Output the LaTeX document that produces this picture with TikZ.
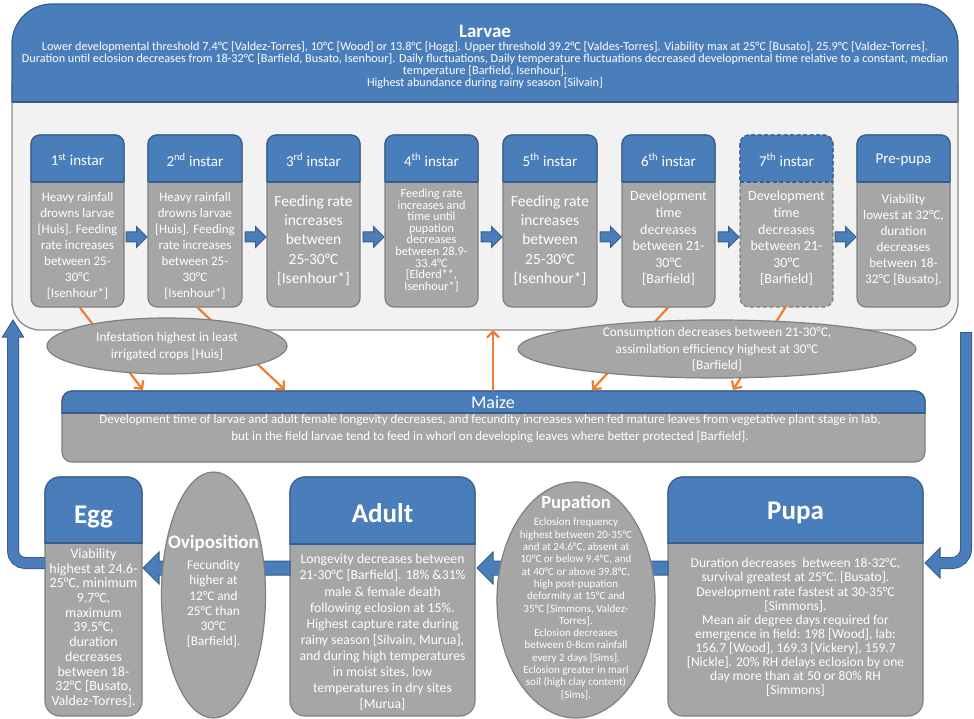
\documentclass[tikz,border=0pt]{standalone}
\usepackage{fontspec}
\setmainfont{Carlito}
\usetikzlibrary{shapes.geometric,shapes.arrows,arrows.meta,calc}
\definecolor{cblue}{RGB}{74,126,187}
\definecolor{cblued}{RGB}{56,93,138}
\definecolor{cgray}{RGB}{166,166,166}
\definecolor{cgrayd}{RGB}{127,127,127}
\definecolor{cpale}{RGB}{242,242,242}
\definecolor{cpaled}{RGB}{140,140,140}
\definecolor{corange}{RGB}{237,125,49}
\newcommand\fs[2]{\fontsize{#1}{#2}\selectfont}
\tikzset{
 boxanchor/.style={rectangle, inner sep=0, outer sep=0, draw=none, fill=none},
 wtext/.style={text=white, align=center, inner sep=0},
 oarrow/.style={corange, line width=2.2pt, -{Straight Barb[length=6pt,width=12pt]}},
 sarrow/.style={single arrow, fill=cblue, draw=cblued, line width=1pt, inner sep=4.5pt, outer sep=0pt, single arrow head extend=5.5pt, single arrow tip angle=90, minimum height=21pt},
 barrow/.style={sarrow, inner sep=6.5pt, single arrow head extend=9pt, shape border rotate=180},
 ellip/.style={ellipse, fill=cgray, draw=cgrayd, line width=1.2pt, inner sep=0},
 lshaft/.style={draw=cblued, line width=1pt, double=cblue, double distance=10pt},
 lhead/.style={fill=cblue, draw=cblued, line width=1pt},
}
\newcommand\twotone[8]{%
 \path[draw=cgrayd, fill=cgray, line width=1.2pt, rounded corners=#7, #8] (#2,#3) rectangle (#4,#5);
 \begin{scope}
  \clip (#2-3,#3-3) rectangle (#4+3,#6);
  \path[draw=cblued, fill=cblue, line width=1.2pt, rounded corners=#7, #8] (#2,#3) rectangle (#4,#5);
 \end{scope}
 \draw[cblued, line width=1.2pt, #8] (#2,#6) -- (#4,#6);
 \node[boxanchor, minimum width={#4-#2}, minimum height={#5-#3}] (#1) at ({(#2+#4)/2},{(#3+#5)/2}) {};
}
\begin{document}
\begin{tikzpicture}[x=1pt,y=-1pt]
\useasboundingbox (0,0) rectangle (974,719);
\fill[white] (0,0) rectangle (974,719);

% ---------- Larvae container ----------
\draw[fill=cpale, draw=cpaled, line width=1.3pt, rounded corners=28] (12,60) rectangle (958,330);
\begin{scope}
 \clip (0,0) rectangle (974,102);
 \draw[fill=cblue, draw=cblued, line width=1.3pt, rounded corners=40] (12,4) rectangle (958,200);
\end{scope}
\draw[cblued, line width=1.3pt] (12,102) -- (958,102);
\node[boxanchor, minimum width=946, minimum height=326] (larvae) at (485,167) {};
\node[wtext, font=\bfseries\fs{19}{20}] (larvaet) at (485,31) {Larvae};
\node[wtext, font=\fs{12.2}{11.8}] (larvaed) at (485,65) {Lower developmental threshold 7.4°C [Valdez-Torres], 10°C [Wood] or 13.8°C [Hogg]. Upper threshold 39.2°C [Valdes-Torres]. Viability max at 25°C [Busato], 25.9°C [Valdez-Torres].\\Duration until eclosion  decreases from 18-32°C [Barfield, Busato, Isenhour]. Daily fluctuations,  Daily temperature fluctuations decreased developmental  time relative to a constant, median\\temperature [Barfield, Isenhour].\\Highest abundance during rainy season [Silvain]};

% ---------- Maize ----------
\twotone{maize}{62}{391}{925}{462}{413}{10}{}
\node[wtext, font=\fs{18}{19}] (maizet) at (493,402) {Maize};
\node[wtext, font=\fs{12.9}{17}] (maized) at (490,429) {Development time of larvae and adult female longevity decreases, and fecundity increases when fed mature leaves from vegetative plant stage in lab,\\but in the field larvae tend to feed in whorl on developing leaves where better protected [Barfield].};

% ---------- instars ----------
\twotone{i1}{31}{135}{124}{307}{182}{9}{}
\twotone{i2}{148}{135}{242}{307}{182}{9}{}
\twotone{i3}{267}{135}{360}{307}{182}{9}{}
\twotone{i4}{385}{135}{478}{307}{182}{9}{}
\twotone{i5}{503}{135}{597}{307}{182}{9}{}
\twotone{i6}{622}{135}{715}{307}{182}{9}{}
\twotone{i7}{740}{135}{833}{307}{182}{9}{dash pattern=on 4pt off 2.5pt}
\twotone{i8}{857}{135}{950}{307}{182}{9}{}

\foreach \n/\cx/\lab in {1/77.5/1\textsuperscript{st} instar, 2/195/2\textsuperscript{nd} instar, 3/313.5/3\textsuperscript{rd} instar, 4/431.5/4\textsuperscript{th} instar, 5/550/5\textsuperscript{th} instar, 6/668.5/6\textsuperscript{th} instar, 7/786.5/7\textsuperscript{th} instar, 8/903.5/Pre-pupa}
  \node[wtext, font=\fs{15}{16}] (h\n) at (\cx,160) {\lab};

\node[wtext, font=\fs{13}{16}] (t1) at (77.5,246) {Heavy rainfall\\drowns larvae\\{}[Huis]. Feeding\\rate increases\\between 25-\\30°C\\{}[Isenhour*]};
\node[wtext, font=\fs{13}{16}] (t2) at (195,246) {Heavy rainfall\\drowns larvae\\{}[Huis]. Feeding\\rate increases\\between 25-\\30°C\\{}[Isenhour*]};
\node[wtext, font=\fs{15.5}{19.3}] (t3) at (313.5,240.5) {Feeding rate\\increases\\between\\25-30°C\\{}[Isenhour*]};
\node[wtext, font=\fs{12.3}{11.6}] (t4) at (431.5,240.5) {Feeding rate\\increases and\\time until\\pupation\\decreases\\between 28.9-\\33.4°C\\{}[Elderd**,\\Isenhour*]};
\node[wtext, font=\fs{15.5}{19.3}] (t5) at (550,240.5) {Feeding rate\\increases\\between\\25-30°C\\{}[Isenhour*]};
\node[wtext, font=\fs{14}{16.6}] (t6) at (668.5,238.5) {Development\\time\\decreases\\between 21-\\30°C\\{}[Barfield]};
\node[wtext, font=\fs{14}{16.6}] (t7) at (786.5,238.5) {Development\\time\\decreases\\between 21-\\30°C\\{}[Barfield]};
\node[wtext, font=\fs{13.3}{16}] (t8) at (903.5,240) {Viability\\lowest at 32°C,\\duration\\decreases\\between 18-\\32°C [Busato].};

% arrows between instars
\coordinate (arow) at (0,237);
\node[sarrow, anchor=tip] (a12) at ($(i2.west |- arow)+(-1,0)$) {};
\node[sarrow, anchor=tip] (a23) at ($(i3.west |- arow)+(-1,0)$) {};
\node[sarrow, anchor=tip] (a34) at ($(i4.west |- arow)+(-1,0)$) {};
\node[sarrow, anchor=tip] (a45) at ($(i5.west |- arow)+(-1,0)$) {};
\node[sarrow, anchor=tip] (a56) at ($(i6.west |- arow)+(-1,0)$) {};
\node[sarrow, anchor=tip] (a67) at ($(i7.west |- arow)+(-1,0)$) {};
\node[sarrow, anchor=tip] (a78) at ($(i8.west |- arow)+(-1,0)$) {};

% ---------- orange arrows ----------
\coordinate (m1) at (143,390);
\coordinate (m2) at (285,390);
\coordinate (m3) at (493,391);
\coordinate (m4) at (592,390);
\coordinate (m5) at (733,390);
\draw[oarrow] ($(i1.south)+(2,0)$) -- (m1);
\draw[oarrow] ($(i2.south)+(2,0)$) -- (m2);
\draw[oarrow] (m3) -- (m3 |- larvae.south);
\draw[oarrow] (i6.south) -- (m4);
\draw[oarrow] ($(i7.south)+(-1,0)$) -- (m5);

% ellipses on the maize links
\node[ellip, minimum width=240, minimum height=56] (infest) at (167,346) {};
\node[wtext, font=\fs{13.3}{16.5}] (infestt) at (167,346.5) {Infestation highest in least\\irrigated crops [Huis]};
\node[ellip, minimum width=398, minimum height=58] (consum) at (717,349) {};
\node[wtext, font=\fs{13.3}{16.5}] (consumt) at (717,349.5) {Consumption decreases between 21-30°C,\\assimilation efficiency highest at 30°C\\{}[Barfield]};

% ---------- bottom row ----------
\twotone{egg}{45}{477}{142}{716}{543}{15}{}
\twotone{adult}{290}{477}{475}{716}{544}{15}{}
\twotone{pupa}{668}{477}{923}{716}{543}{15}{}

\coordinate (brow) at (0,568);
\node[barrow, anchor=tip, minimum height=50] (aovi) at ($(egg.east |- brow)+(1,0)$) {};
\node[barrow, anchor=tail, minimum height=70] (aadu) at (adult.west |- brow) {};
\node[barrow, anchor=tip, minimum height=55] (apup) at ($(adult.east |- brow)+(2,0)$) {};
\node[barrow, anchor=tail, minimum height=50] (apupa) at (pupa.west |- brow) {};

\node[ellip, minimum width=104, minimum height=246] (ovi) at (213.5,595) {};
\node[ellip, minimum width=158, minimum height=236] (pupation) at (576,600) {};

\node[wtext, font=\bfseries\fs{27}{28}] (eggt) at (93.5,517) {Egg};
\node[wtext, font=\fs{14}{14.7}] (eggd) at (93.5,628) {Viability\\highest at 24.6-\\25°C, minimum\\9.7°C,\\maximum\\39.5°C,\\duration\\decreases\\between 18-\\32°C [Busato,\\Valdez-Torres].};
\node[wtext, font=\bfseries\fs{19}{20}] (ovit) at (213.5,543) {Oviposition};
\node[wtext, font=\fs{13.3}{15.2}] (ovid) at (213.5,604) {Fecundity\\higher at\\12°C and\\25°C than\\30°C\\{}[Barfield].};
\node[wtext, font=\bfseries\fs{27}{28}] (adultt) at (382.5,513) {Adult};
\node[wtext, font=\fs{13.7}{16.1}] (adultd) at (382.5,632.5) {Longevity decreases between\\21-30°C [Barfield].  18\% \&31\%\\male \& female death\\following eclosion at 15\%.\\Highest capture rate during\\rainy season [Silvain, Murua],\\and during high temperatures\\in moist sites, low\\temperatures in dry sites\\{}[Murua]};
\node[wtext, font=\bfseries\fs{18.5}{19}] (pupationt) at (576,503) {Pupation};
\node[wtext, font=\fs{11}{12.3}] (pupationd) at (576,609) {Eclosion frequency\\highest between 20-35°C\\and at 24.6°C, absent at\\10°C or below 9.4°C, and\\at 40°C or above 39.8°C,\\high post-pupation\\deformity at 15°C and\\35°C [Simmons, Valdez-\\Torres].\\Eclosion decreases\\between 0-8cm rainfall\\every 2 days [Sims].\\Eclosion greater in marl\\soil (high clay content)\\{}[Sims].};
\node[wtext, font=\bfseries\fs{27}{28}] (pupat) at (795.5,513) {Pupa};
\node[wtext, font=\fs{13.5}{14.1}] (pupad) at (795.5,627.5) {Duration decreases\ \ between 18-32°C,\\survival greatest at 25°C. [Busato].\\Development rate fastest at 30-35°C\\{}[Simmons].\\Mean air degree days required for\\emergence in field: 198 [Wood], lab:\\156.7 [Wood], 169.3 [Vickery], 159.7\\{}[Nickle]. 20\% RH delays eclosion by one\\day more than at 50 or 80\% RH\\{}[Simmons]};

% ---------- big L arrows ----------
\coordinate (lbend) at (13,563);
\coordinate (lheadb) at (13,337);
\draw[lshaft, rounded corners=12] (egg.west |- lbend) -- (lbend) -- (lheadb);
\draw[lhead] ($(lheadb)+(-10.5,0)$) -- ($(lheadb)+(0,-17)$) -- ($(lheadb)+(10.5,0)$) -- cycle;
\fill[cblue] ($(lheadb)+(-5,-0.8)$) rectangle ($(lheadb)+(5,1.5)$);

\coordinate (rtop) at (966,332);
\coordinate (rbend) at (966,563);
\coordinate (rheadb) at ($(pupa.east |- rbend)+(17,0)$);
\draw[lshaft, rounded corners=14] (rtop) -- (rbend) -- (rheadb);
\draw[cblued, line width=1pt] ($(rtop)+(-6,0)$) -- ($(rtop)+(6,0)$);
\draw[lhead] ($(rheadb)+(0,-15)$) -- ($(rheadb)+(-15,0)$) -- ($(rheadb)+(0,15)$) -- cycle;
\fill[cblue] ($(rheadb)+(-0.8,-5)$) rectangle ($(rheadb)+(1.5,5)$);
\end{tikzpicture}
\end{document}
